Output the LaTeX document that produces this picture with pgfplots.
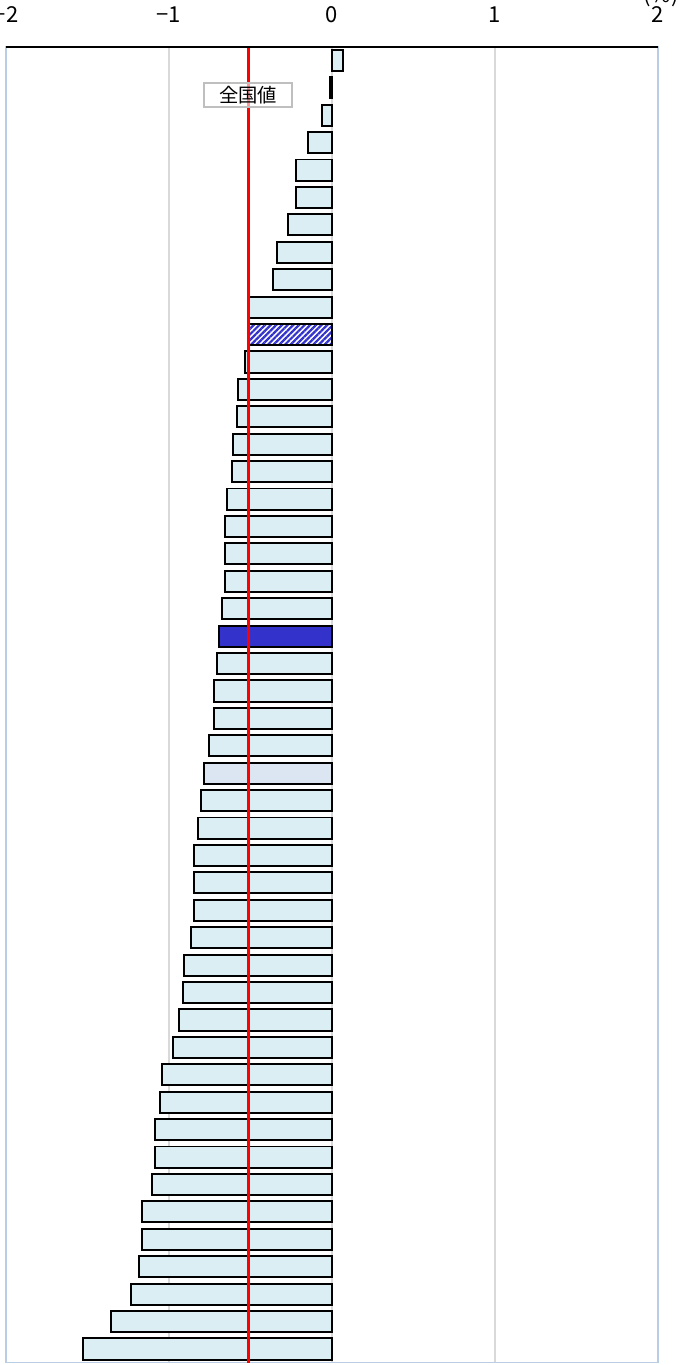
\documentclass[border=0pt]{standalone}
\usepackage{pgfplots}
\pgfplotsset{compat=1.18}
\usepackage{fontspec}
\setmainfont{Noto Sans CJK JP}
\usetikzlibrary{patterns.meta}

\definecolor{barfill}{RGB}{219,238,244}
\definecolor{greybar}{RGB}{220,230,242}
\definecolor{darkbar}{RGB}{51,51,204}
\definecolor{framec}{RGB}{185,205,229}
\definecolor{gridc}{RGB}{217,217,217}
\definecolor{boxc}{RGB}{191,191,191}
\definecolor{natred}{RGB}{255,0,0}

% row value
\pgfplotstableread{
row val
1 0.070
2 -0.012
3 -0.063
4 -0.149
5 -0.222
6 -0.222
7 -0.271
8 -0.339
9 -0.360
10 -0.507
12 -0.534
13 -0.575
14 -0.585
15 -0.605
16 -0.615
17 -0.644
18 -0.654
19 -0.654
20 -0.654
21 -0.675
23 -0.706
24 -0.726
25 -0.726
26 -0.755
28 -0.804
29 -0.824
30 -0.845
31 -0.845
32 -0.845
33 -0.865
34 -0.906
35 -0.916
36 -0.937
37 -0.974
38 -1.045
39 -1.057
40 -1.086
41 -1.086
42 -1.104
43 -1.166
44 -1.166
45 -1.186
46 -1.235
47 -1.354
48 -1.526
}\maindata

\begin{document}
\begin{tikzpicture}[x=1pt,y=1pt]
\begin{axis}[
  at={(4.5pt,-35pt)}, anchor=north west,
  scale only axis,
  width=489pt, height=987pt,
  xmin=-2, xmax=2,
  ymin=0.5, ymax=48.5,
  y dir=reverse,
  ytick=\empty,
  xtick={-2,-1,0,1,2},
  xticklabels={−2,−1,0,1,2},
  xticklabel pos=upper,
  major tick length=0pt,
  xticklabel style={font=\fontsize{16.5}{18}\selectfont, anchor=base, yshift=18pt},
  xmajorgrids,
  grid style={gridc, line width=1.1pt},
  axis line style={framec, line width=1.1pt},
  mybar/.style={xbar, bar width=0.77, bar shift=0pt, draw=black, line width=1.45pt},
]
\addplot[mybar, fill=barfill] table[x=val, y=row] {\maindata};
\addplot[mybar, draw=black, pattern={Lines[angle=45,distance=3pt,line width=1.7pt]}, pattern color=darkbar] coordinates {(-0.507,11)};
\addplot[mybar, fill=darkbar] coordinates {(-0.695,22)};
\addplot[mybar, fill=greybar] coordinates {(-0.785,27)};

\draw[natred, line width=2.8pt] (axis cs:-0.512,0.5) -- (axis cs:-0.512,48.5);
\node[draw=boxc, line width=1.1pt, fill=white, fill opacity=0.6, text opacity=1,
      minimum width=66pt, minimum height=18pt, inner sep=0pt,
      font=\fontsize{14.5}{16}\selectfont] at (axis cs:-0.515,2.26) {全国値};
\draw[black, line width=1.6pt] (axis description cs:0,1) -- (axis description cs:1,1);
\end{axis}
\node[anchor=base, font=\fontsize{16.5}{18}\selectfont] at (495.75pt,-1.5pt) {(\%)};
\pgfresetboundingbox
\useasboundingbox (0,0) rectangle (517.5pt,-1023.75pt);
\end{tikzpicture}
\end{document}
